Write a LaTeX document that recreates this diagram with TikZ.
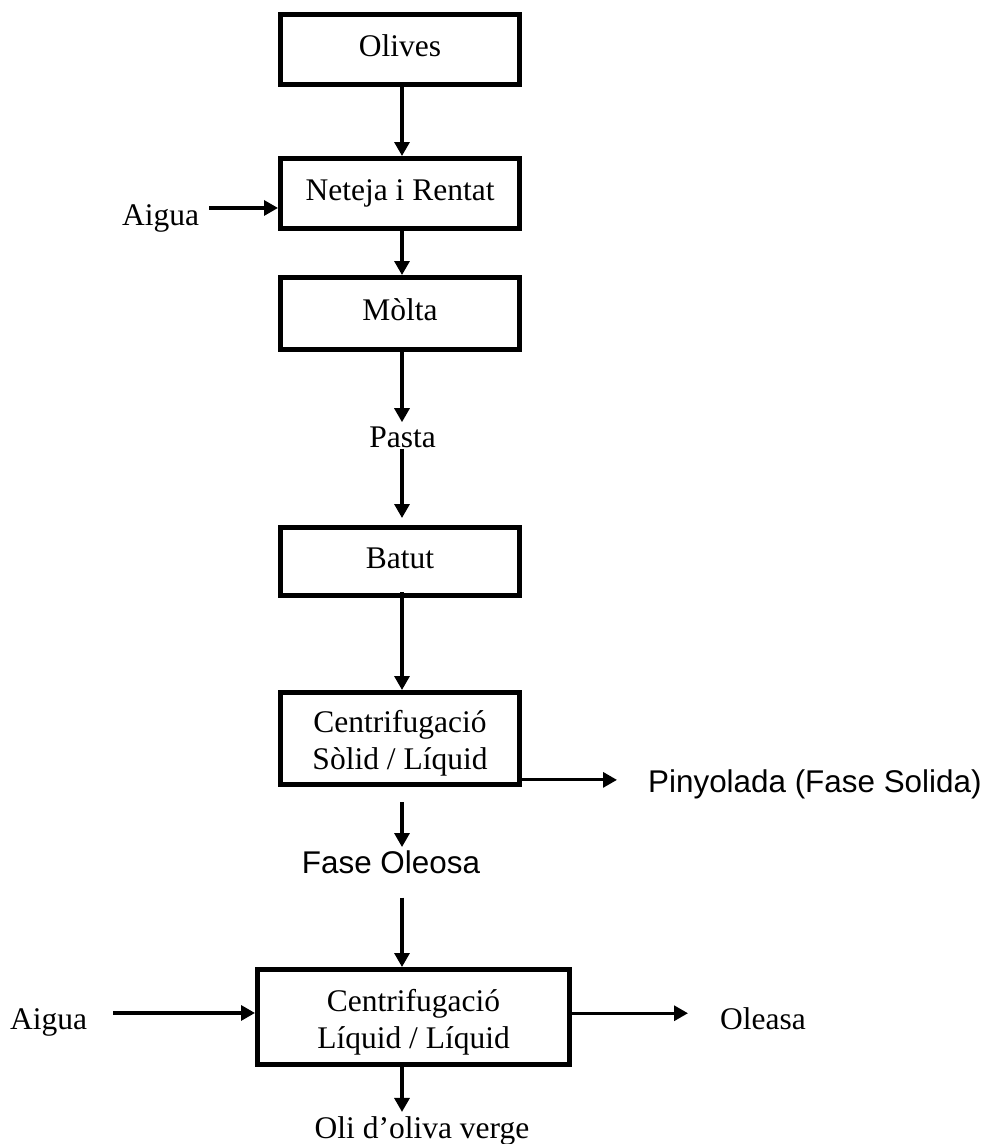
\documentclass[tikz,border=0pt]{standalone}
\usepackage{fontspec}
\setmainfont{Liberation Serif}
\newfontfamily\labelsans{Liberation Sans}
\usetikzlibrary{arrows.meta}
% extra height on the first line of the two-line process boxes
\newcommand\firstlinestrut{\rule{0pt}{32pt}}
\begin{document}
\begin{tikzpicture}[x=1pt,y=-1pt,
  serifsize/.style={font=\fontsize{31.5}{37}\selectfont},
  sanssize/.style={font=\labelsans\fontsize{31.4}{37}\selectfont},
  stepbox/.style={draw,line width=5pt,serifsize,minimum width=239pt,
    minimum height=70pt,inner sep=0pt,text height=22pt,text depth=8pt},
  splitbox/.style={draw,line width=5pt,serifsize,inner sep=0pt,align=center},
  seriflabel/.style={serifsize,inner sep=0pt},
  sanslabel/.style={sanssize,inner sep=0pt},
  flow/.style={-{Triangle[length=14pt,width=15pt]},line width=3.2pt}]
\useasboundingbox (0,0) rectangle (987,1144);

% main flow axis
\coordinate (axis) at (402,0);

% process steps
\node[stepbox] (olives) at (400,49) {Olives};
\node[stepbox] (neteja) at (400,193.5) {Neteja i Rentat};
\node[stepbox,minimum height=72pt] (molta) at (400,313.5) {Mòlta};
\node[seriflabel,anchor=base] (pasta) at (402.5,447) {Pasta};
\node[stepbox,minimum height=68pt] (batut) at (400,561.5) {Batut};
\node[splitbox,minimum width=239pt,minimum height=92pt] (c1) at (400,738.5)
  {\firstlinestrut Centrifugació\\Sòlid / Líquid};
\node[sanslabel,anchor=base] (fase) at (391,873) {Fase Oleosa};
\node[splitbox,minimum width=312pt,minimum height=95pt] (c2) at (413.5,1017)
  {\firstlinestrut Centrifugació\\Líquid / Líquid};
\node[seriflabel,anchor=base] (oli) at (422,1138) {Oli d’oliva verge};

% side streams
\node[seriflabel,anchor=base west] (aiguaA) at (122,225) {Aigua};
\node[seriflabel,anchor=base west] (aiguaB) at (10,1029) {Aigua};
\node[sanslabel,anchor=base west] (pinyolada) at (648,792) {Pinyolada (Fase Solida)};
\node[seriflabel,anchor=base west] (oleasa) at (720,1029) {Oleasa};

% main flow
\draw[flow] (olives.south -| axis) -- (neteja.north -| axis);
\draw[flow] (neteja.south -| axis) -- (molta.north -| axis);
\draw[flow,shorten >=4pt] (molta.south -| axis) -- (pasta.north -| axis);
\draw[flow,shorten <=1pt,shorten >=7pt] (pasta.south -| axis) -- (batut.north -| axis);
\draw[flow,shorten <=-6pt] (batut.south -| axis) -- (c1.north -| axis);
\draw[flow,shorten <=15pt,shorten >=3pt] (c1.south -| axis) -- (fase.north -| axis);
\draw[flow,shorten <=24pt] (fase.south -| axis) -- (c2.north -| axis);
\draw[flow,shorten >=4pt] (c2.south -| axis) -- (oli.north -| axis);

% inputs and outputs
\draw[flow] ([xshift=10pt,yshift=10pt]aiguaA.east) -- ([yshift=10pt]aiguaA.east -| neteja.west);
\draw[flow] ([xshift=26pt,yshift=9pt]aiguaB.east) -- ([yshift=9pt]aiguaB.east -| c2.west);
\draw[flow,shorten >=31pt] ([yshift=4pt]pinyolada.west -| c1.east) -- ([yshift=4pt]pinyolada.west);
\draw[flow,shorten >=32pt] ([yshift=5pt]oleasa.west -| c2.east) -- ([yshift=5pt]oleasa.west);
\end{tikzpicture}
\end{document}
